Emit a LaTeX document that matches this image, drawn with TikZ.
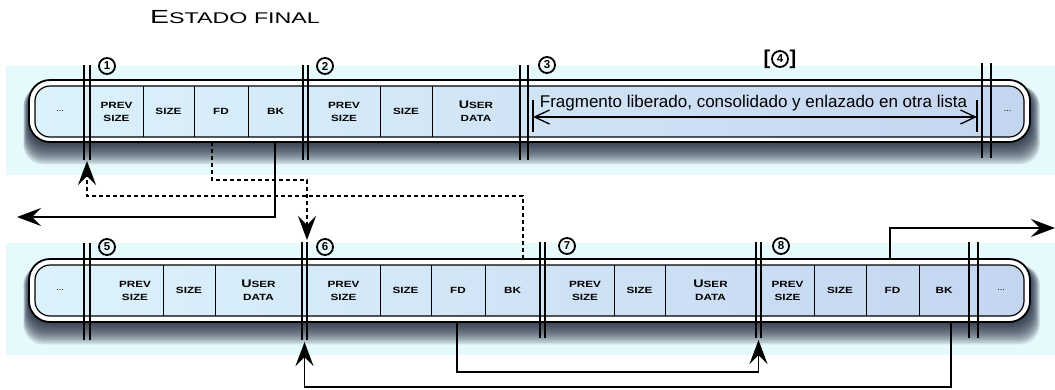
\documentclass[tikz,border=0pt]{standalone}
\usepackage{fontspec}
\setmainfont{Liberation Sans}
\usepackage{graphicx}
\usetikzlibrary{arrows.meta}

\definecolor{bandbg}{HTML}{E6F9FC}
\definecolor{cellleft}{HTML}{DCF2FB}
\definecolor{cellright}{HTML}{C4D5F0}
\definecolor{shadowcol}{HTML}{1A2235}

\newcommand\cellfont{\fontsize{9}{13}\selectfont\bfseries}
\newcommand\widecaps[1]{\scalebox{1.3}[1]{#1}}
\newcommand\bigU{{\fontsize{11}{13}\selectfont U}}

% rounded chunk bar: outer top, outer bottom, inner top, inner bottom
\newcommand\chunkbar[4]{%
  \foreach \i in {1,...,14}
    \fill[shadowcol, opacity=0.11, rounded corners=20pt]
      ({29-0.4*\i},#3) rectangle ({1030+0.7*\i},{#2+1.6*\i});
  \draw[line width=1.8pt, fill=white, rounded corners=21pt] (29,#1) rectangle (1030,#2);
  \shade[left color=cellleft, right color=cellright, rounded corners=15pt] (35,#3) rectangle (1024,#4);
  \draw[line width=1.2pt, rounded corners=15pt] (35,#3) rectangle (1024,#4);
}

% chunk boundary: name, left x, right x, top y, bottom y
\newcommand\chunksep[5]{%
  \coordinate (#1-t) at ({(#2+#3)/2},#4);
  \coordinate (#1-b) at ({(#2+#3)/2},#5);
  \draw[sepline] (#2,#4) -- (#2,#5) (#3,#4) -- (#3,#5);
}

\tikzset{
  cell/.style={rectangle, inner sep=0pt, minimum height=51pt, align=center, font=\cellfont},
  divider/.style={line width=1.1pt},
  sepline/.style={line width=1.4pt},
  circnum/.style={circle, draw, line width=1.8pt, minimum size=16pt, inner sep=0pt,
    font=\fontsize{11.5}{11}\selectfont\bfseries},
  conn/.style={line width=1.5pt, -{Stealth[length=24pt,width=18pt,inset=9pt]}},
  dconn/.style={conn, dash pattern=on 4pt off 3pt},
  span/.style={line width=1.3pt,
    {Straight Barb[length=15pt,width=14pt,line width=1.3pt]}-{Straight Barb[length=15pt,width=14pt,line width=1.3pt]}},
}

\begin{document}
\begin{tikzpicture}[x=1pt, y=-1pt]
\useasboundingbox (0,0) rectangle (1055,389);
\clip (0,0) rectangle (1055,389);

% title
\node[anchor=base west, inner sep=0pt] (title) at (150,23)
  {\scalebox{1.5}[1]{{\fontsize{19}{19}\selectfont E}\fontsize{15.5}{15}\selectfont STADO FINAL}};

% background bands
\fill[bandbg] (6,66) rectangle (1055,175);
\fill[bandbg] (6,243) rectangle (1055,355);

% ---------- upper heap view ----------
\chunkbar{80}{142}{86}{137}
\node[cell, minimum width=48pt] (dA)  at (60,111.5)    {\mdseries...};
\node[cell, minimum width=53pt] (ps1) at (116.5,111.5) {\widecaps{PREV}\\\widecaps{SIZE}};
\node[cell, minimum width=51pt] (sz1) at (168.5,111.5) {\widecaps{SIZE}};
\node[cell, minimum width=54pt] (fd1) at (221,111.5)   {\widecaps{FD}};
\node[cell, minimum width=55pt] (bk1) at (275.5,111.5) {\widecaps{BK}};
\node[cell, minimum width=72pt] (ps2) at (344,111.5)   {\widecaps{PREV}\\\widecaps{SIZE}};
\node[cell, minimum width=52pt] (sz2) at (406,111.5)   {\widecaps{SIZE}};
\node[cell, minimum width=88pt] (ud2) at (476,111.5)   {\widecaps{\bigU SER}\\\widecaps{DATA}};
\node[cell, minimum width=33pt] (dB)  at (1007.5,111.5) {\mdseries...};
\foreach \c in {ps1,sz1,fd1,ps2,sz2}
  \draw[divider] (\c.north east) -- (\c.south east);

% freed region
\coordinate (fl) at (533,117);
\coordinate (fr) at (977,117);
\node[font=\fontsize{17}{17}\selectfont, inner sep=0pt] (freetext) at (753.5,103)
  {Fragmento liberado, consolidado y enlazado en otra lista};
\draw[span] (fl) -- (fr);
\draw[line width=1.3pt] ([yshift=17pt]fl) -- ([yshift=-15pt]fl);
\draw[line width=1.3pt] ([yshift=17pt]fr) -- ([yshift=-15pt]fr);

\chunksep{s1}{84}{90}{65}{160}
\chunksep{s2}{303}{308}{65}{160}
\chunksep{s3}{520}{528}{65}{160}
\chunksep{s4}{982}{991}{63}{158}

\node[circnum] (n1) at (107,66) {1};
\node[circnum] (n2) at (325,66) {2};
\node[circnum] (n3) at (547,65) {3};
\node[circnum] (n4) at (780,59) {4};
\node[font=\fontsize{20}{20}\selectfont\bfseries, inner sep=0pt, anchor=east] (lb) at ([xshift=-0.5pt]n4.west) {[};
\node[font=\fontsize{20}{20}\selectfont\bfseries, inner sep=0pt, anchor=west] (rb) at ([xshift=0.5pt]n4.east) {]};

% ---------- lower heap view ----------
\chunkbar{259}{322}{265}{316}
\node[cell, minimum width=48pt] (dC)  at (60,290.5)    {\mdseries...};
\node[cell, minimum width=73pt] (ps5) at (126.5,290.5) {\hspace*{17pt}\widecaps{PREV}\\\hspace*{17pt}\widecaps{SIZE}};
\node[cell, minimum width=52pt] (sz5) at (189,290.5)   {\widecaps{SIZE}};
\node[cell, minimum width=87pt] (ud5) at (258.5,290.5) {\widecaps{\bigU SER}\\\widecaps{DATA}};
\node[cell, minimum width=73pt] (ps6) at (343.5,290.5) {\widecaps{PREV}\\\widecaps{SIZE}};
\node[cell, minimum width=51pt] (sz6) at (405.5,290.5) {\widecaps{SIZE}};
\node[cell, minimum width=54pt] (fd6) at (458,290.5)   {\widecaps{FD}};
\node[cell, minimum width=55pt] (bk6) at (512.5,290.5) {\widecaps{BK}};
\node[cell, minimum width=69pt] (ps7) at (579.5,290.5) {\hspace*{11pt}\widecaps{PREV}\\\hspace*{11pt}\widecaps{SIZE}};
\node[cell, minimum width=51pt] (sz7) at (639.5,290.5) {\widecaps{SIZE}};
\node[cell, minimum width=91pt] (ud7) at (710.5,290.5) {\widecaps{\bigU SER}\\\widecaps{DATA}};
\node[cell, minimum width=53pt] (ps8) at (787.5,290.5) {\widecaps{PREV}\\\widecaps{SIZE}};
\node[cell, minimum width=52pt] (sz8) at (840,290.5)   {\widecaps{SIZE}};
\node[cell, minimum width=53pt] (fd8) at (892.5,290.5) {\widecaps{FD}};
\node[cell, minimum width=50pt] (bk8) at (944,290.5)   {\widecaps{BK}};
\node[cell, minimum width=46pt] (dD)  at (1001,290.5)  {\mdseries...};
\foreach \c in {ps5,sz5,ps6,sz6,fd6,ps7,sz7,ps8,sz8,fd8}
  \draw[divider] (\c.north east) -- (\c.south east);

\chunksep{s5}{84}{90}{243}{340}
\chunksep{s6}{302}{307}{242}{340}
\chunksep{s7}{540}{545}{242}{338}
\chunksep{s8}{756}{761}{242}{338}
\chunksep{s9}{969}{978}{242}{338}

\node[circnum] (n5) at (107,247) {5};
\node[circnum] (n6) at (325,247) {6};
\node[circnum] (n7) at (567,246) {7};
\node[circnum] (n8) at (781,246) {8};

% ---------- list pointers ----------
\coordinate (outL) at (17,217);
\coordinate (outR) at (1055,228);

\draw[dconn] ([xshift=-9pt,yshift=-5pt]fd1.south) -- ++(0,38) -| ([xshift=2.5pt,yshift=2pt]s6-t);
\draw[conn]  ([xshift=-0.5pt,yshift=-5pt]bk1.south) |- (outL);
\draw[dconn] ([xshift=10.5pt,yshift=6pt]bk6.north) -- ++(0,-63) -| ([yshift=-1pt]s1-b);
\draw[conn]  ([xshift=-2.5pt,yshift=6pt]fd8.north) |- (outR);
\draw[conn]  ([xshift=-1pt,yshift=-6pt]fd6.south) -- ++(0,50) -| ([yshift=-2pt]s8-b);
\draw[conn]  ([xshift=7pt,yshift=-6pt]bk8.south) -- ++(0,65) -| ([yshift=-2pt]s6-b);
\end{tikzpicture}
\end{document}
